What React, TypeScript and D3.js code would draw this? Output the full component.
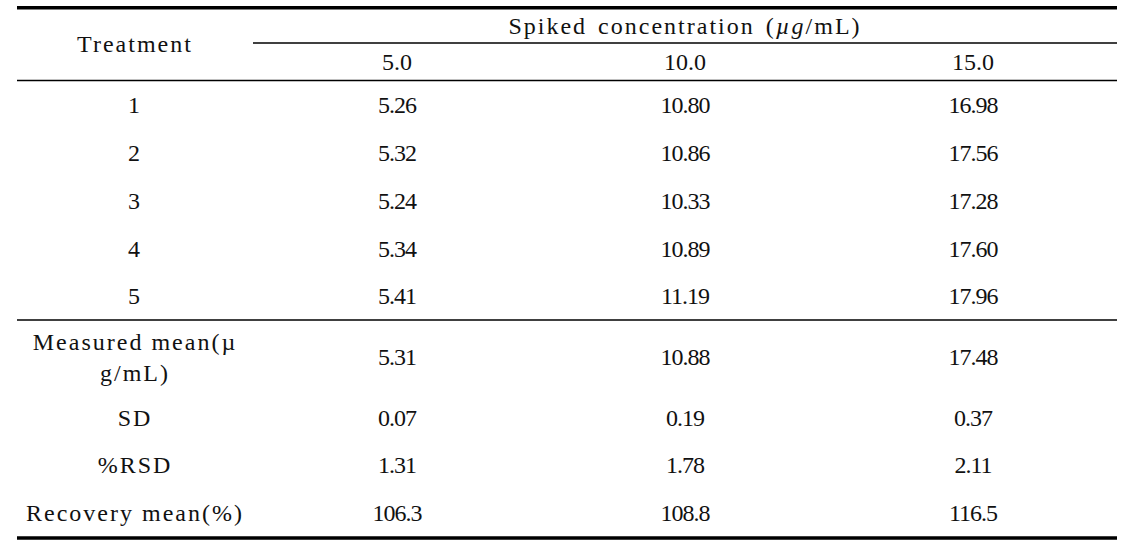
import React from 'react';
import * as d3 from 'd3';

// spiked concentration columns (µg/mL)
const concentrations = ['5.0', '10.0', '15.0'];
const treatments = ['1', '2', '3', '4', '5'];

// measured values per treatment, one array per concentration
const spiked5 = [5.26, 5.32, 5.24, 5.34, 5.41];
const spiked10 = [10.8, 10.86, 10.33, 10.89, 11.19];
const spiked15 = [16.98, 17.56, 17.28, 17.6, 17.96];

// summary rows
const measuredMean = [5.31, 10.88, 17.48];
const sdValues = [0.07, 0.19, 0.37];
const rsdValues = [1.31, 1.78, 2.11];
const recoveryMean = [106.3, 108.8, 116.5];

const width = 1147;
const height = 556;
const left = 17;
const labelRight = 253;
const right = 1117;

const f2 = d3.format('.2f');
const f1 = d3.format('.1f');

// row layout in relative units (1 unit = one ordinary row)
const rows = [
  ...treatments.map((t, i) => ({
    key: 'r' + t,
    label: [t],
    units: 1,
    values: [spiked5[i], spiked10[i], spiked15[i]].map(f2),
  })),
  { key: 'mean', label: ['Measured mean(µ', 'g/mL)'], units: 1.55, values: measuredMean.map(f2) },
  { key: 'sd', label: ['SD'], units: 0.99, values: sdValues.map(f2) },
  { key: 'rsd', label: ['%RSD'], units: 0.99, values: rsdValues.map(f2) },
  { key: 'rec', label: ['Recovery mean(%)'], units: 0.99, values: recoveryMean.map(f1) },
];

const FONT = 'Liberation Serif';

export default function App() {
  const x = d3.scaleBand<string>().domain(concentrations).range([labelRight, right]);
  const labelX = (left + labelRight) / 2;
  const colX = (c: string) => (x(c) ?? 0) + x.bandwidth() / 2;

  const totalUnits = d3.sum(rows, (r) => r.units);
  const y = d3.scaleLinear().domain([0, totalUnits]).range([81, 536]);
  let acc = 0;
  const placed = rows.map((r) => {
    const y0 = y(acc);
    acc += r.units;
    const y1 = y(acc);
    return { ...r, y0, y1, cy: (y0 + y1) / 2 };
  });
  const midLineY = placed[treatments.length].y0;

  return (
    <svg
      width={width}
      height={height}
      style={{ position: 'absolute', left: 0, top: 0, background: '#fff' }}
    >
      {/* rules */}
      <line x1={left} x2={right} y1={7.8} y2={7.8} stroke="#000" strokeWidth={3.6} />
      <line x1={labelRight} x2={right} y1={43} y2={43} stroke="#000" strokeWidth={1.4} />
      <line x1={left} x2={right} y1={80.5} y2={80.5} stroke="#000" strokeWidth={1.4} />
      <line x1={left} x2={right} y1={midLineY} y2={midLineY} stroke="#000" strokeWidth={1.4} />
      <line x1={left} x2={right} y1={538} y2={538} stroke="#000" strokeWidth={3.6} />

      <g fontFamily={FONT} fontSize={24} fill="#111">
        {/* header */}
        <text x={labelX} y={44} dy="0.35em" textAnchor="middle" letterSpacing={2}>
          Treatment
        </text>
        <text
          x={(labelRight + right) / 2}
          y={26}
          dy="0.35em"
          textAnchor="middle"
          letterSpacing={2}
          wordSpacing={3}
        >
          Spiked concentration (<tspan fontStyle="italic">µg</tspan>/mL)
        </text>
        {concentrations.map((c) => (
          <text key={c} x={colX(c)} y={62} dy="0.35em" textAnchor="middle">
            {c}
          </text>
        ))}

        {/* body */}
        {placed.map((r) => (
          <g key={r.key}>
            {r.label.map((line, i) => (
              <text
                key={i}
                x={labelX}
                y={r.cy + (i - (r.label.length - 1) / 2) * 31}
                dy="0.35em"
                textAnchor="middle"
                letterSpacing={2}
              >
                {line}
              </text>
            ))}
            {r.values.map((v, i) => (
              <text
                key={i}
                x={colX(concentrations[i])}
                y={r.cy}
                dy="0.35em"
                textAnchor="middle"
                letterSpacing={-1}
              >
                {v}
              </text>
            ))}
          </g>
        ))}
      </g>
    </svg>
  );
}
